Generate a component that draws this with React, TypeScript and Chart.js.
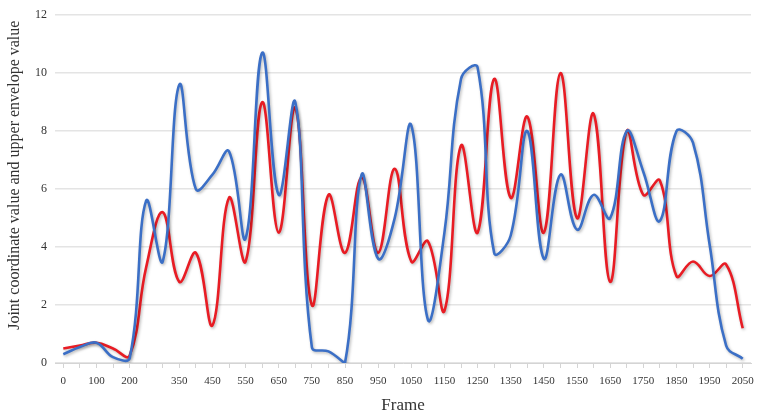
import React, { useEffect, useRef } from "react";
import { Chart, registerables } from "chart.js";

Chart.register(...registerables);

const frames: number[] = [
  0, 50, 100, 150, 200, 250, 300, 350, 400, 450, 500, 550, 600, 650, 700, 750,
  800, 850, 900, 950, 1000, 1050, 1100, 1150, 1200, 1250, 1300, 1350, 1400,
  1450, 1500, 1550, 1600, 1650, 1700, 1750, 1800, 1850, 1900, 1950, 2000, 2050,
];

const shownTickLabels: number[] = [
  0, 100, 200, 350, 450, 550, 650, 750, 850, 950, 1050, 1150, 1250, 1350, 1450,
  1550, 1650, 1750, 1850, 1950, 2050,
];

const jointCoordinate: number[] = [
  0.3, 0.55, 0.7, 0.2, 0.15, 5.6, 3.5, 9.6, 6.0, 6.5, 7.3, 4.3, 10.7, 5.8, 9.0,
  0.55, 0.4, 0.0, 6.5, 3.6, 5.0, 8.2, 1.5, 4.5, 9.8, 10.2, 3.8, 4.4, 8.0, 3.6,
  6.5, 4.6, 5.8, 5.0, 8.0, 6.6, 4.9, 8.0, 7.6, 4.1, 0.6, 0.15,
];

const upperEnvelope: number[] = [
  0.5, 0.6, 0.7, 0.5, 0.25, 3.3, 5.2, 2.8, 3.8, 1.3, 5.7, 3.5, 9.0, 4.5, 8.8,
  2.0, 5.8, 3.8, 6.4, 3.8, 6.7, 3.5, 4.2, 1.8, 7.5, 4.5, 9.8, 5.7, 8.5, 4.5,
  10.0, 5.0, 8.6, 2.8, 8.0, 5.8, 6.3, 3.0, 3.5, 3.0, 3.4, 1.2,
];

const yTicks: number[] = [0, 2, 4, 6, 8, 10, 12];

const yTitle = "Joint coordinate value and upper envelope value";
const xTitle = "Frame";

const FONT = "'Liberation Serif', 'Times New Roman', serif";
const TEXT = "#333333";

const shadowPlugin = {
  id: "lineShadow",
  beforeDatasetDraw(chart: any) {
    const ctx = chart.ctx;
    ctx.save();
    ctx.shadowColor = "rgba(0,0,0,0.28)";
    ctx.shadowBlur = 3;
    ctx.shadowOffsetX = 1.2;
    ctx.shadowOffsetY = 1.5;
  },
  afterDatasetDraw(chart: any) {
    chart.ctx.restore();
  },
};

const yTitlePlugin = {
  id: "yTitleText",
  afterDraw(chart: any) {
    const ctx = chart.ctx;
    ctx.save();
    ctx.translate(15, chart.chartArea.top + 160);
    ctx.rotate(-Math.PI / 2);
    ctx.font = `16px ${FONT}`;
    ctx.fillStyle = TEXT;
    ctx.textAlign = "center";
    ctx.textBaseline = "middle";
    ctx.fillText(yTitle, 0, 0);
    ctx.restore();
  },
};

export default function App() {
  const canvasRef = useRef<HTMLCanvasElement | null>(null);

  useEffect(() => {
    if (!canvasRef.current) return;
    const chart = new Chart(canvasRef.current, {
      type: "line",
      data: {
        labels: frames.map(String),
        datasets: [
          {
            label: "Joint coordinate value",
            data: jointCoordinate,
            borderColor: "#3b6fc6",
            borderWidth: 2.6,
            pointRadius: 0,
            tension: 0.4,
            fill: false,
          },
          {
            label: "Upper envelope value",
            data: upperEnvelope,
            borderColor: "#e81c24",
            borderWidth: 2.6,
            pointRadius: 0,
            tension: 0.4,
            fill: false,
          },
        ],
      },
      options: {
        animation: false,
        responsive: true,
        maintainAspectRatio: false,
        layout: { padding: { top: 9, right: 7, bottom: 0, left: 0 } },
        plugins: {
          legend: { display: false },
          tooltip: { enabled: false },
        },
        scales: {
          x: {
            type: "category",
            offset: true,
            grid: {
              drawOnChartArea: false,
              drawTicks: true,
              tickLength: 5,
              color: "#d4d4d4",
            },
            border: { display: true, color: "#d4d4d4", width: 1 },
            ticks: {
              autoSkip: false,
              maxRotation: 0,
              minRotation: 0,
              padding: 7,
              color: TEXT,
              font: { family: FONT, size: 11 },
              callback: (_v: any, i: number) =>
                shownTickLabels.includes(frames[i]) ? String(frames[i]) : "",
            },
            title: {
              display: true,
              text: xTitle,
              color: TEXT,
              font: { family: FONT, size: 17 },
              padding: { top: 0, bottom: 1 },
            },
            afterFit: (scale: any) => {
              scale.height = 54;
              scale.paddingLeft = 0;
              scale.paddingRight = 0;
            },
          },
          y: {
            min: 0,
            max: 12,
            afterBuildTicks: (scale: any) => {
              scale.ticks = yTicks.map((v) => ({ value: v }));
            },
            grid: {
              color: "#e4e4e4",
              lineWidth: 1.5,
              drawTicks: false,
            },
            border: { display: false },
            ticks: {
              padding: 8,
              color: TEXT,
              font: { family: FONT, size: 12 },
            },
            afterFit: (scale: any) => {
              scale.width = 55;
            },
          },
        },
      },
      plugins: [shadowPlugin, yTitlePlugin],
    });
    return () => chart.destroy();
  }, []);

  return (
    <div style={{ position: "absolute", left: 0, top: 0, width: 758, height: 417, background: "#fff" }}>
      <canvas ref={canvasRef} />
    </div>
  );
}
